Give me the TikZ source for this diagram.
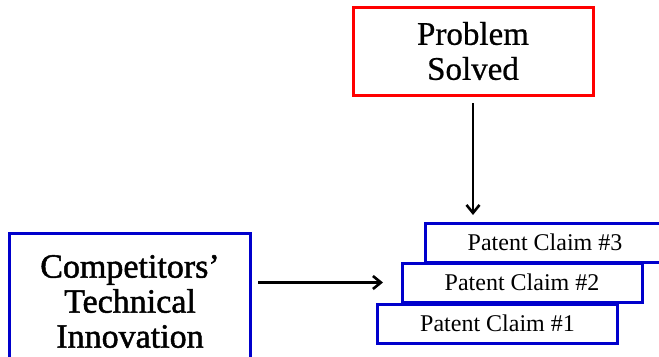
\documentclass[tikz,border=0pt]{standalone}
\usepackage{fontspec}
\setmainfont{Liberation Serif}
\newfontfamily\heavyserif[RawFeature={embolden=1.4}]{Liberation Serif}
\newfontfamily\semiserif[RawFeature={embolden=0.7}]{Liberation Serif}
\usepackage{tikz}
\usetikzlibrary{arrows.meta, positioning, calc}
\definecolor{myred}{RGB}{255,0,0}
\definecolor{myblue}{RGB}{0,0,204}
\tikzset{
  arrow/.style={-{Straight Barb[length=8bp, width=13bp, line width=2.6bp]}, line width=2.4bp, color=black},
}

\begin{document}
\begin{tikzpicture}[x=1bp, y=-1bp,
  goal/.style={rectangle, draw=myred, fill=white, line width=3bp, minimum width=240bp,
    minimum height=88bp, align=center, font=\semiserif\fontsize{33bp}{35bp}\selectfont},
  source/.style={rectangle, draw=myblue, fill=white, line width=3bp, minimum width=240bp,
    minimum height=137bp, align=center, font=\heavyserif\fontsize{34bp}{35bp}\selectfont},
  claim/.style={rectangle, draw=myblue, fill=white, line width=3bp, minimum width=240bp,
    minimum height=39bp, font=\fontsize{24bp}{26bp}\selectfont}
]
\useasboundingbox (0,0) rectangle (659,356);
\clip (0,0) rectangle (659,356);

\node[goal]   (solved) at (473, 51)    {Problem\\Solved};
\node[source] (comp)   at (130, 301.5) {Competitors’\\Technical\\Innovation};

% stacked claims, top one first
\node[claim] (c3) at (545, 242.5)   {Patent Claim \#3};
\node[claim] (c2) at (522, 282.5)   {Patent Claim \#2};
\node[claim] (c1) at (497.5, 323.5) {Patent Claim \#1};

\draw[arrow, shorten <=6.5bp, shorten >=6.5bp] (solved.south) -- (solved.south |- c3.north);
\draw[arrow, shorten <=6.5bp, shorten >=17.5bp] (c2.west -| comp.east) -- (c2.west);
\end{tikzpicture}
\end{document}
